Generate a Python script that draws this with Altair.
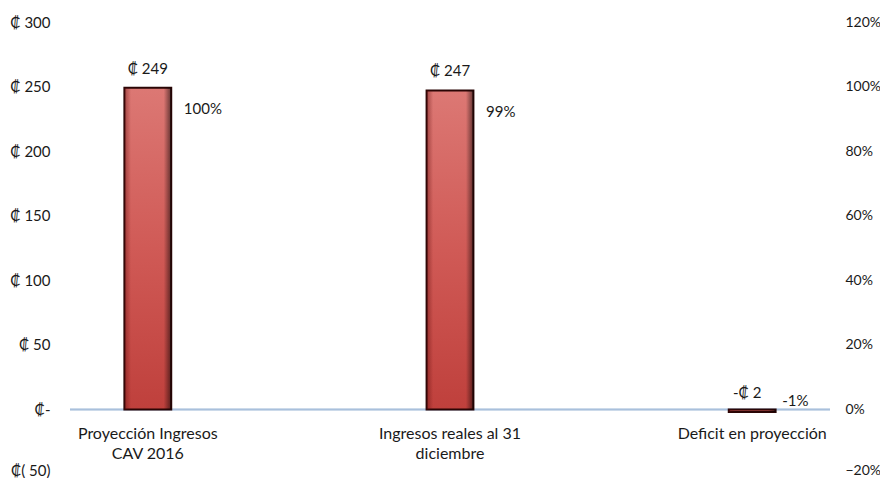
import altair as alt
import pandas as pd

categories = ["Proyección Ingresos\nCAV 2016", "Ingresos reales al 31\ndiciembre", "Deficit en proyección"]
amounts = [249, 247, -2]
amount_labels = ["₡ 249", "₡ 247", "-₡ 2"]
percents = [1.00, 0.99, -0.01]
percent_labels = ["100%", "99%", "-1%"]
left_ticks = [-50, 0, 50, 100, 150, 200, 250, 300]
right_ticks = [-0.2, 0, 0.2, 0.4, 0.6, 0.8, 1.0, 1.2]

df = pd.DataFrame({
    "cat": categories,
    "amount": amounts,
    "alabel": amount_labels,
    "pct": percents,
    "plabel": percent_labels,
})

FONT = "Lato"
TXT = "#1a1a1a"

xscale = alt.Scale(domain=categories, paddingInner=0.845, paddingOuter=0.18)
yscale = alt.Scale(domain=[-50, 300], nice=False, zero=False)
pscale = alt.Scale(domain=[-0.2, 1.2], nice=False, zero=False)

x = alt.X("cat:N", scale=xscale, axis=None, sort=categories)

left_label_expr = ("datum.value == 0 ? '₡-' : (datum.value < 0 ? '₡( ' + abs(datum.value) + ')' : "
                   "'₡ ' + datum.value)")

base = alt.Chart(df)

bars = base.mark_bar(
    fill=alt.Gradient(
        gradient="linear",
        stops=[alt.GradientStop(color="#dc7874", offset=0),
               alt.GradientStop(color="#d05a56", offset=0.5),
               alt.GradientStop(color="#bf403c", offset=1)],
        x1=0, x2=0, y1=0, y2=1,
    ),
    stroke="#2a0505",
    strokeWidth=2,
).encode(
    x=x,
    y=alt.Y("amount:Q", scale=yscale,
            axis=alt.Axis(values=left_ticks, labelExpr=left_label_expr,
                          grid=False, domain=False, ticks=False, labelPadding=20,
                          labelOffset={"condition": {"test": "datum.value == -50", "value": -4}, "value": 0},
                          labelFont=FONT, labelFontSize=15, labelColor=TXT, title=None)),
)

shade = base.mark_bar(
    fill=alt.Gradient(
        gradient="linear",
        stops=[alt.GradientStop(color="rgba(90,10,10,0.45)", offset=0),
               alt.GradientStop(color="rgba(90,10,10,0)", offset=0.14),
               alt.GradientStop(color="rgba(0,0,0,0)", offset=0.84),
               alt.GradientStop(color="rgba(0,0,0,0.55)", offset=1)],
        x1=0, x2=1, y1=0, y2=0,
    ),
).encode(x=x, y=alt.Y("amount:Q", scale=yscale))

zero = base.mark_rule(color="#a9c0dc", strokeWidth=1.5).encode(
    y=alt.datum(0, scale=yscale),
    x=alt.value(0), x2=alt.value(760),
)

amt_pos = base.transform_filter("datum.amount >= 0").mark_text(
    font=FONT, fontSize=15, color=TXT, dy=-19, baseline="middle"
).encode(x=x, y=alt.Y("amount:Q", scale=yscale), text="alabel:N")

amt_neg = base.transform_filter("datum.amount < 0").mark_text(
    font=FONT, fontSize=15, color=TXT, dy=-19, dx=-5, baseline="middle"
).encode(x=x, y=alt.Y("amount:Q", scale=yscale), text="alabel:N")

cat_text = base.mark_text(
    font=FONT, fontSize=16, color=TXT, baseline="top", dy=17, lineHeight=20, lineBreak="\n"
).encode(x=x, y=alt.datum(0, scale=yscale), text="cat:N")

left_layer = alt.layer(zero, bars, shade, amt_pos, amt_neg, cat_text)

pct_axis = alt.Axis(orient="right", values=right_ticks, format=".0%",
                    grid=False, domain=False, ticks=False, labelPadding=15,
                    labelOffset={"condition": {"test": "datum.value < -0.1", "value": -4}, "value": 0},
                    labelFont=FONT, labelFontSize=14, labelColor=TXT, title=None)

pct_pos = base.transform_filter("datum.pct >= 0").mark_text(
    font=FONT, fontSize=15, color=TXT, align="left", dx=36, dy=22, baseline="middle"
).encode(x=x, y=alt.Y("pct:Q", scale=pscale, axis=pct_axis), text="plabel:N")

pct_neg = base.transform_filter("datum.pct < 0").mark_text(
    font=FONT, fontSize=15, color=TXT, align="left", dx=30, dy=-12, baseline="middle"
).encode(x=x, y=alt.Y("pct:Q", scale=pscale), text="plabel:N")

right_layer = alt.layer(pct_pos, pct_neg)

chart = alt.layer(left_layer, right_layer).resolve_scale(y="independent").properties(
    width=760, height=452,
    padding={"left": 62, "top": 14, "right": 50, "bottom": 4},
    autosize=alt.AutoSizeParams(type="none"),
    background="white",
).configure_view(stroke=None)

chart.save("out.html", embed_options={"renderer": "svg", "actions": False})
